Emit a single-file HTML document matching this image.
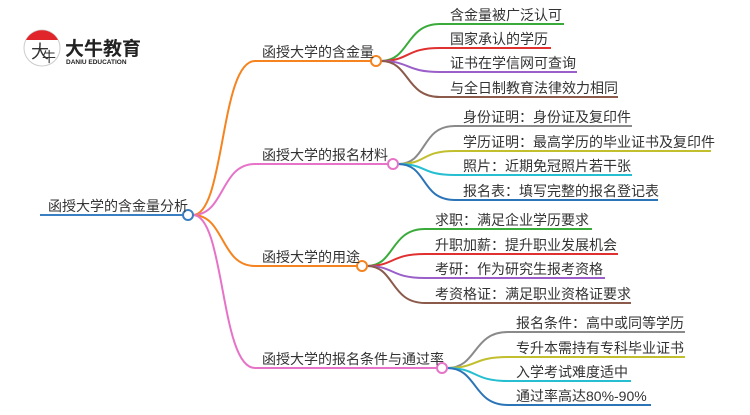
<!DOCTYPE html>
<html><head><meta charset="utf-8"><style>
body{margin:0;background:#fff}
svg text{font-family:"Liberation Sans","Noto Sans CJK SC",sans-serif;fill:#333}
</style></head><body>
<svg width="750" height="410" viewBox="0 0 750 410" xmlns="http://www.w3.org/2000/svg">
<g fill="none" stroke-width="2">
<!-- logo -->
<circle cx="42" cy="48" r="18" stroke="#ccc" stroke-width="1" fill="#fff"/>
<path d="M26,40 A18,18 0 0 1 58,40 Z" fill="#e0262b" stroke="none"/>
<!-- root -->
<line x1="40" y1="215" x2="183" y2="215" stroke="#3a7fc1"/>
<path d="M193,215 C225,215 220,61 255,61 L371,61" stroke="#f5831f"/>
<path d="M193,215 C225,215 220,164 255,164 L388,164" stroke="#e673c7"/>
<path d="M193,215 C225,215 220,266 255,266 L357,266" stroke="#f5831f"/>
<path d="M193,215 C225,215 220,368 255,368 L437,368" stroke="#e673c7"/>
<!-- b1 -->
<path d="M381,61 C410,61 405,24 440,24 L564,24" stroke="#3aab3a"/>
<path d="M381,61 C410,61 405,48 440,48 L551,48" stroke="#e03030"/>
<path d="M381,61 C410,61 405,72 440,72 L577,72" stroke="#9a5fc8"/>
<path d="M381,61 C410,61 405,97 440,97 L618,97" stroke="#8b5a4a"/>
<!-- b2 -->
<path d="M398,164 C428,164 420,126 455,126 L632,126" stroke="#8a8a8a"/>
<path d="M398,164 C428,164 420,151 455,151 L711,151" stroke="#c1bf2e"/>
<path d="M398,164 C428,164 420,175 455,175 L632,175" stroke="#26bfd1"/>
<path d="M398,164 C428,164 420,200 455,200 L658,200" stroke="#2c74b8"/>
<!-- b3 -->
<path d="M367,266 C395,266 390,229 425,229 L592,229" stroke="#3aab3a"/>
<path d="M367,266 C395,266 390,254 425,254 L618,254" stroke="#e03030"/>
<path d="M367,266 C395,266 390,278 425,278 L605,278" stroke="#9a5fc8"/>
<path d="M367,266 C395,266 390,303 425,303 L631,303" stroke="#8b5a4a"/>
<!-- b4 -->
<path d="M447,368 C478,368 472,332 508,332 L685,332" stroke="#8a8a8a"/>
<path d="M447,368 C478,368 472,357 508,357 L685,357" stroke="#c1bf2e"/>
<path d="M447,368 C478,368 472,381 508,381 L631,381" stroke="#26bfd1"/>
<path d="M447,368 C478,368 472,405 508,405 L651,405" stroke="#2c74b8"/>
<circle cx="188" cy="215" r="5" stroke="#3a7fc1" fill="#fff"/>
<circle cx="376" cy="61" r="5" stroke="#f5831f" fill="#fff"/>
<circle cx="393" cy="164" r="5" stroke="#e673c7" fill="#fff"/>
<circle cx="362" cy="266" r="5" stroke="#f5831f" fill="#fff"/>
<circle cx="442" cy="368" r="5" stroke="#e673c7" fill="#fff"/>
</g>
<text x="31" y="58" font-size="18" fill="#222">大</text><text x="42" y="62" font-size="14" fill="#222">牛</text>
<text x="65" y="55" font-size="19" font-weight="bold" style="fill:#222">大牛教育</text>
<text x="66" y="64" font-size="6.5" font-weight="bold" style="fill:#222">DANIU EDUCATION</text>
<g font-size="14">
<text x="48" y="211">函授大学的含金量分析</text>
<text x="262" y="57">函授大学的含金量</text>
<text x="262" y="160">函授大学的报名材料</text>
<text x="262" y="262">函授大学的用途</text>
<text x="262" y="364">函授大学的报名条件与通过率</text>
<text x="450" y="20">含金量被广泛认可</text>
<text x="450" y="44">国家承认的学历</text>
<text x="450" y="68">证书在学信网可查询</text>
<text x="450" y="93">与全日制教育法律效力相同</text>
<text x="463" y="122">身份证明：身份证及复印件</text>
<text x="463" y="147">学历证明：最高学历的毕业证书及复印件</text>
<text x="463" y="171">照片：近期免冠照片若干张</text>
<text x="463" y="196">报名表：填写完整的报名登记表</text>
<text x="435" y="225">求职：满足企业学历要求</text>
<text x="435" y="250">升职加薪：提升职业发展机会</text>
<text x="435" y="274">考研：作为研究生报考资格</text>
<text x="435" y="299">考资格证：满足职业资格证要求</text>
<text x="516" y="328">报名条件：高中或同等学历</text>
<text x="516" y="353">专升本需持有专科毕业证书</text>
<text x="516" y="377">入学考试难度适中</text>
<text x="516" y="401">通过率高达80%-90%</text>
</g>
</svg>
</body></html>
